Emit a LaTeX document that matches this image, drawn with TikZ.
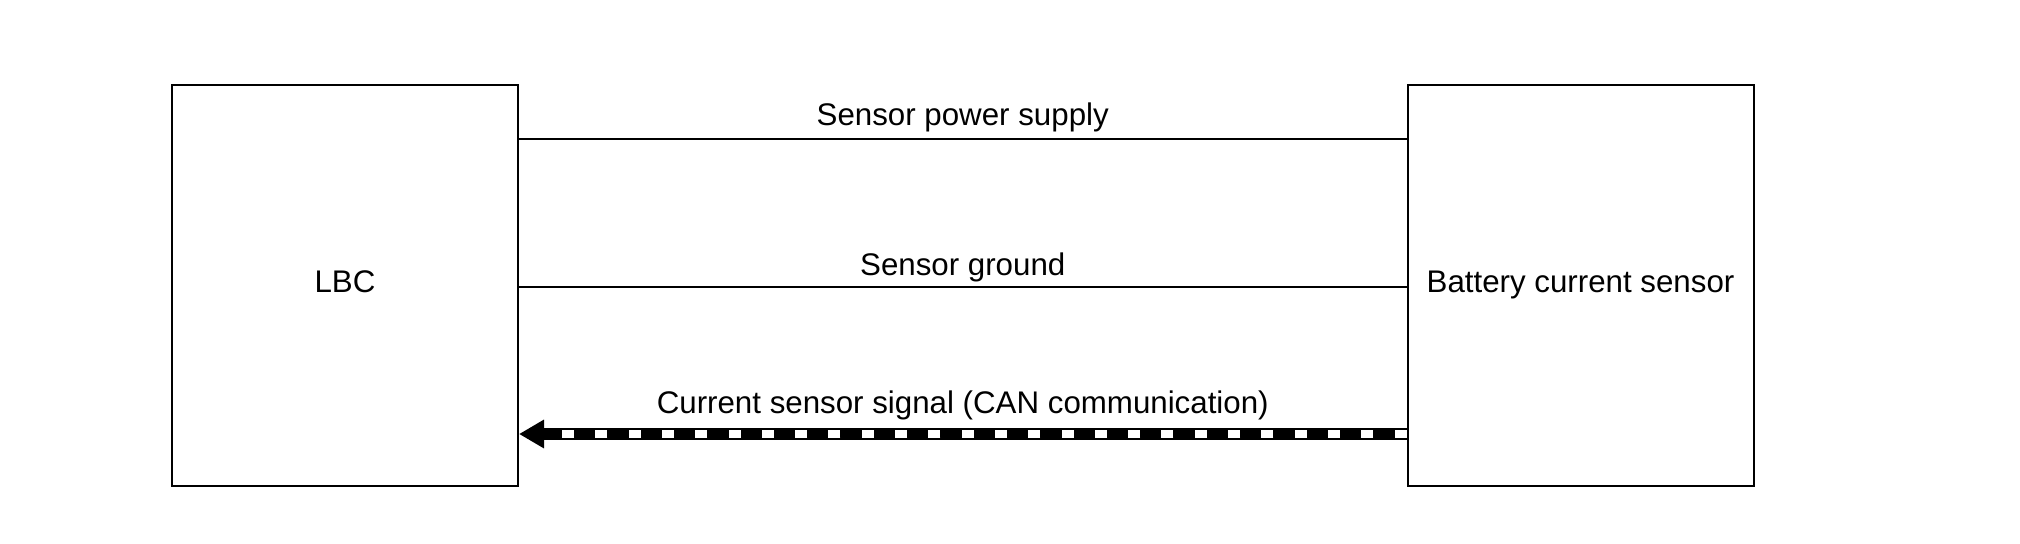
\documentclass[tikz,border=0pt]{standalone}
\usepackage{fontspec}
\setmainfont{Liberation Sans}
\usetikzlibrary{positioning,arrows.meta}

\begin{document}
\begin{tikzpicture}[%
    >={Triangle[length=5mm,width=5.4mm]}, % Big solid head for the CAN line
    node distance=24.71cm,                % Centre to centre of the two units
    every node/.style={font=\fontsize{17.8}{21}\selectfont}]
% -------------------------------------------------
% Unit and line styles
\tikzset{
  unit/.style={draw, line width=0.04cm, on grid, inner sep=0pt,
    minimum width=6.92cm, minimum height=8.02cm,
    text height=0.9em, text depth=0.1em},
  wire/.style={draw, line width=0.04cm},
  % the CAN line is a thick black arrow with white marks on top
  canbus/.style={->, draw, line width=0.24cm},
  canmark/.style={draw, white, line width=0.15cm,
    dash pattern=on 0.24cm off 0.426cm},
  lbl/.style={anchor=base, inner sep=0pt}
}
% page margins
\useasboundingbox (0,0) rectangle (40.4,-10.88);
% -------------------------------------------------
% The two units
\node [unit] (lbc) at (6.90,-5.71) {LBC};
\node [unit, right=of lbc] (bcs) {Battery current sensor};

% -------------------------------------------------
% Plain wires: place the label first, then draw the wire
\path ([yshift=2.93cm]lbc.east) to node [lbl, yshift=0.28cm] (pwr)
  {Sensor power supply} ([yshift=2.93cm]bcs.west);
  \draw [wire] ([yshift=2.93cm]lbc.east) -- ([yshift=2.93cm]bcs.west);
\path ([yshift=-0.03cm]lbc.east) to node [lbl, yshift=0.24cm] (gnd)
  {Sensor ground} ([yshift=-0.03cm]bcs.west);
  \draw [wire] ([yshift=-0.03cm]lbc.east) -- ([yshift=-0.03cm]bcs.west);

% -------------------------------------------------
% The CAN line, from the sensor back to the LBC
\path ([yshift=-2.97cm]bcs.west) to node [lbl, yshift=0.42cm] (can)
  {Current sensor signal (CAN communication)} ([yshift=-2.97cm]lbc.east);
  \draw [canbus] ([yshift=-2.97cm]bcs.west) -- ([yshift=-2.97cm]lbc.east);
  \draw [canmark] ([yshift=-2.97cm]bcs.west)
    -- ([yshift=-2.97cm, xshift=0.84cm]lbc.east);
% -------------------------------------------------
\end{tikzpicture}
\end{document}
